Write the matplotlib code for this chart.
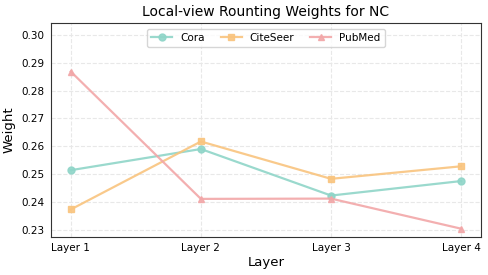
import numpy as np
import matplotlib
matplotlib.use("Agg")
import matplotlib.pyplot as plt

layers = ["Layer 1", "Layer 2", "Layer 3", "Layer 4"]
cora = [0.2514, 0.2590, 0.2423, 0.2475]
citeseer = [0.2373, 0.2617, 0.2483, 0.2528]
pubmed = [0.2868, 0.2411, 0.2412, 0.2304]

fig, ax = plt.subplots(figsize=(4.88, 2.75), dpi=100)
x = np.arange(len(layers))

ax.plot(x, cora, marker="o", color="#8fd5c8", lw=1.6, ms=5, alpha=0.9, label="Cora")
ax.plot(x, citeseer, marker="s", color="#f9c47e", lw=1.6, ms=5, alpha=0.9, label="CiteSeer")
ax.plot(x, pubmed, marker="^", color="#f2a7a8", lw=1.6, ms=5, alpha=0.9, label="PubMed")

ax.set_xticks(x)
ax.set_xticklabels(layers, fontsize=7.5)
ax.set_yticks([0.23, 0.24, 0.25, 0.26, 0.27, 0.28, 0.29, 0.30])
ax.set_yticklabels([f"{v:.2f}" for v in ax.get_yticks()], fontsize=7.5)
ax.set_xlim(-0.15, 3.15)
ax.set_ylim(0.2276, 0.3041)
ax.tick_params(length=0, pad=5)
ax.grid(True, linestyle="--", color="#e8e8e8", lw=0.8)
for s in ax.spines.values():
    s.set_color("#333333")

ax.set_title("Local-view Rounting Weights for NC", fontsize=10, pad=5)
ax.set_xlabel("Layer", fontsize=9.5, labelpad=2)
ax.set_ylabel("Weight", fontsize=9.5)
ax.legend(loc="upper center", ncol=3, fontsize=7.5, frameon=True,
          handlelength=2.0, columnspacing=1.5, borderpad=0.4)

fig.subplots_adjust(left=0.105, right=0.985, top=0.915, bottom=0.14)
fig.savefig("out.png", dpi=100)
